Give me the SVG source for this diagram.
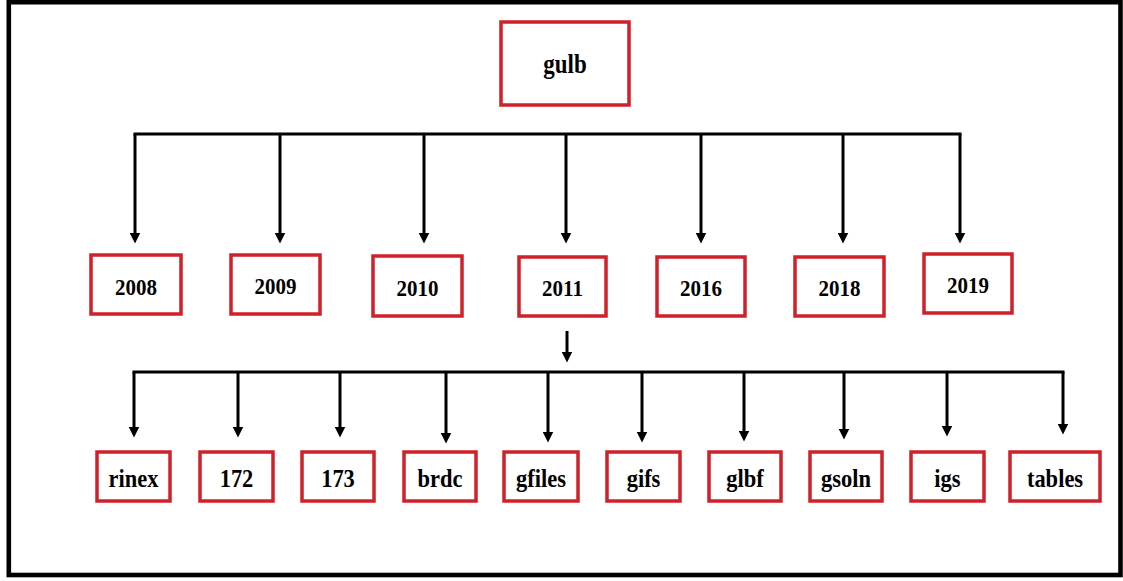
<svg xmlns="http://www.w3.org/2000/svg" width="1123" height="581" viewBox="0 0 1123 581">
<defs>
<marker id="ah" markerUnits="userSpaceOnUse" viewBox="0 0 11 11" markerWidth="11" markerHeight="11" refX="0.5" refY="5.5" orient="auto">
<path d="M0,0 L11,5.5 L0,11 z" fill="#000"/>
</marker>
<style>
.box{fill:#fff;stroke:#d0202a;stroke-width:3.5}
text{font-family:'Liberation Serif','Times New Roman',Times,serif;font-weight:bold;fill:#000;text-anchor:middle}
.yr{font-size:21px}
.lf{font-size:22.5px}
.c{fill:none;stroke:#000;stroke-width:3;stroke-linejoin:miter}
.a{fill:none;stroke:#000;stroke-width:3;marker-end:url(#ah)}
</style>
</defs>
<rect x="0" y="0" width="1123" height="581" fill="#fff"/>
<rect x="8.8" y="2.2" width="1111.7" height="572.8" fill="none" stroke="#000" stroke-width="4.6"/>

<g id="connectors">
<path class="c" d="M133.5,134 H961.5"/>
<path class="a" d="M135,134 V233"/>
<path class="a" d="M280,134 V233"/>
<path class="a" d="M424,134 V233"/>
<path class="a" d="M566,134 V233"/>
<path class="a" d="M701,134 V233"/>
<path class="a" d="M843,134 V233"/>
<path class="a" d="M960,134 V233"/>
<path class="a" d="M567,331 V352"/>
<path class="c" d="M132.5,372 H1064.5"/>
<path class="a" d="M134,372 V427"/>
<path class="a" d="M238,372 V427"/>
<path class="a" d="M340,372 V427"/>
<path class="a" d="M446,372 V433"/>
<path class="a" d="M548,372 V432"/>
<path class="a" d="M642,372 V432"/>
<path class="a" d="M744,372 V431"/>
<path class="a" d="M844,372 V429"/>
<path class="a" d="M947,372 V426"/>
<path class="a" d="M1063,372 V424"/>
</g>

<g id="gulb"><rect class="box" x="501" y="22" width="128" height="83"/><text transform="translate(565,73) scale(1,1.15)" style="font-size:23px">gulb</text></g>

<g id="y2008"><rect class="box" x="91" y="255" width="90" height="59"/><text class="yr" transform="translate(136,295) scale(1,1.12)">2008</text></g>
<g id="y2009"><rect class="box" x="231" y="255" width="89" height="59"/><text class="yr" transform="translate(275.5,294) scale(1,1.12)">2009</text></g>
<g id="y2010"><rect class="box" x="373" y="256" width="89" height="60"/><text class="yr" transform="translate(417.5,296) scale(1,1.12)">2010</text></g>
<g id="y2011"><rect class="box" x="519" y="257" width="87" height="59"/><text class="yr" transform="translate(562.5,296) scale(1,1.12)">2011</text></g>
<g id="y2016"><rect class="box" x="657" y="257" width="88" height="59"/><text class="yr" transform="translate(701,296) scale(1,1.12)">2016</text></g>
<g id="y2018"><rect class="box" x="795" y="257" width="89" height="59"/><text class="yr" transform="translate(839.5,296) scale(1,1.12)">2018</text></g>
<g id="y2019"><rect class="box" x="924" y="254" width="88" height="59"/><text class="yr" transform="translate(968,293) scale(1,1.12)">2019</text></g>

<g id="rinex"><rect class="box" x="97" y="452" width="73" height="49"/><text class="lf" transform="translate(133.5,487) scale(1,1.12)">rinex</text></g>
<g id="n172"><rect class="box" x="200" y="452" width="73" height="49"/><text class="lf" transform="translate(236.5,487) scale(1,1.12)">172</text></g>
<g id="n173"><rect class="box" x="302" y="452" width="72" height="49"/><text class="lf" transform="translate(338,487) scale(1,1.12)">173</text></g>
<g id="brdc"><rect class="box" x="404" y="452" width="72" height="49"/><text class="lf" transform="translate(440,487) scale(1,1.12)">brdc</text></g>
<g id="gfiles"><rect class="box" x="504" y="452" width="74" height="49"/><text class="lf" transform="translate(541,487) scale(1,1.12)">gfiles</text></g>
<g id="gifs"><rect class="box" x="607" y="452" width="73" height="49"/><text class="lf" transform="translate(643.5,487) scale(1,1.12)">gifs</text></g>
<g id="glbf"><rect class="box" x="709" y="452" width="72" height="49"/><text class="lf" transform="translate(745,487) scale(1,1.12)">glbf</text></g>
<g id="gsoln"><rect class="box" x="810" y="452" width="72" height="49"/><text class="lf" transform="translate(846,487) scale(1,1.12)">gsoln</text></g>
<g id="igs"><rect class="box" x="911" y="452" width="73" height="49"/><text class="lf" transform="translate(947.5,487) scale(1,1.12)">igs</text></g>
<g id="tables"><rect class="box" x="1010" y="452" width="90" height="49"/><text class="lf" transform="translate(1055,487) scale(1,1.12)">tables</text></g>
</svg>
